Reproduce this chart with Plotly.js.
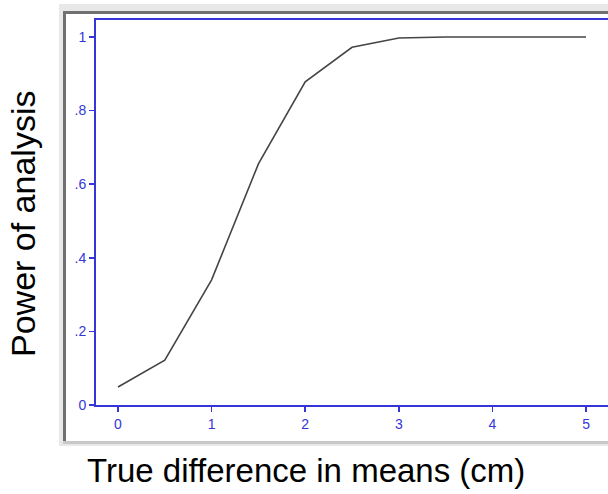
<!DOCTYPE html>
<html>
<head>
<meta charset="utf-8">
<script src="https://cdn.plot.ly/plotly-3.0.1.min.js"></script>
<style>
html,body{margin:0;padding:0;background:#fff;overflow:hidden;width:608px;height:494px;}
#chart{width:620px;height:494px;}
</style>
</head>
<body>
<div id="chart"></div>
<script>
// Data
const trueDifference = [0, 0.5, 1, 1.5, 2, 2.5, 3, 3.5, 4, 4.5, 5];
const powerValues    = [0.049, 0.122, 0.34, 0.655, 0.878, 0.972, 0.997, 1.0, 1.0, 1.0, 1.0];
const xTickVals = [0, 1, 2, 3, 4, 5];
const xTickText = ['0', '1', '2', '3', '4', '5'];
const yTickVals = [0, 0.2, 0.4, 0.6, 0.8, 1];
const yTickText = ['0', '.2', '.4', '.6', '.8', '1'];

const W = 620, H = 494, L = 96, R = 10, T = 20, B = 89;
const pw = W - L - R, ph = H - T - B;
const px = v => (v - L) / pw;
const py = v => (H - B - v) / ph;

const blue = '#3636d8';

const trace = {
  x: trueDifference,
  y: powerValues,
  type: 'scatter',
  mode: 'lines',
  line: {color: '#454545', width: 1.6},
  hoverinfo: 'skip'
};

const layout = {
  width: W, height: H,
  margin: {l: L, r: R, t: T, b: B, pad: 0},
  paper_bgcolor: '#ffffff',
  plot_bgcolor: 'rgba(0,0,0,0)',
  showlegend: false,
  xaxis: {
    range: [-0.235, 5.256],
    tickmode: 'array', tickvals: xTickVals, ticktext: xTickText,
    ticks: 'outside', ticklen: 5, tickwidth: 1.5, tickcolor: blue,
    showline: true, linecolor: blue, linewidth: 2, mirror: true,
    showgrid: false, zeroline: false,
    tickfont: {family: 'Liberation Sans, Arial, sans-serif', size: 14, color: blue}
  },
  yaxis: {
    range: [0, 1.046],
    tickmode: 'array', tickvals: yTickVals, ticktext: yTickText,
    ticks: 'outside', ticklen: 5, tickwidth: 1.5, tickcolor: blue,
    showline: true, linecolor: blue, linewidth: 2, mirror: true,
    showgrid: false, zeroline: false,
    tickfont: {family: 'Liberation Sans, Arial, sans-serif', size: 14, color: blue}
  },
  shapes: [
    {type: 'rect', xref: 'paper', yref: 'paper', layer: 'below',
     x0: px(59), x1: px(640), y0: py(4), y1: py(446),
     fillcolor: '#e8e8e8', line: {width: 0}},
    {type: 'rect', xref: 'paper', yref: 'paper', layer: 'below',
     x0: px(63), x1: px(640), y0: py(11), y1: py(444),
     fillcolor: '#c8c8c8', line: {width: 0}},
    {type: 'rect', xref: 'paper', yref: 'paper', layer: 'below',
     x0: px(63), x1: px(640), y0: py(11), y1: py(441),
     fillcolor: '#707070', line: {width: 0}},
    {type: 'rect', xref: 'paper', yref: 'paper', layer: 'below',
     x0: px(66), x1: px(640), y0: py(14), y1: py(441),
     fillcolor: '#ffffff', line: {width: 0}}
  ],
  annotations: [
    {text: 'True difference in means (cm)', xref: 'paper', yref: 'paper',
     x: px(306), y: py(470), xanchor: 'center', yanchor: 'middle', showarrow: false,
     font: {family: 'Liberation Sans, Arial, sans-serif', size: 33, color: '#000'}},
    {text: 'Power of analysis', xref: 'paper', yref: 'paper', textangle: -90,
     x: px(23), y: py(224), xanchor: 'center', yanchor: 'middle', showarrow: false,
     font: {family: 'Liberation Sans, Arial, sans-serif', size: 34, color: '#000'}}
  ]
};

Plotly.newPlot('chart', [trace], layout, {displayModeBar: false, staticPlot: true});
</script>
</body>
</html>
